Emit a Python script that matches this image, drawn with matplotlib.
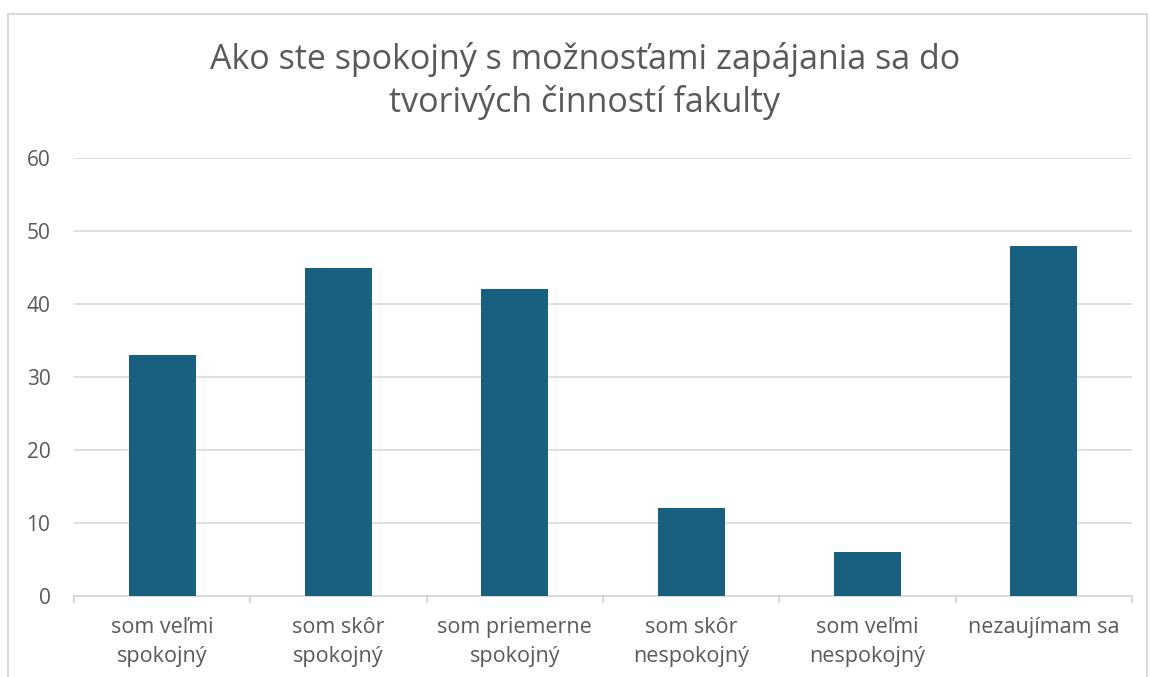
import matplotlib.pyplot as plt
from matplotlib.patches import Rectangle

# Données
categories = ["som veľmi\nspokojný", "som skôr\nspokojný", "som priemerne\nspokojný",
              "som skôr\nnespokojný", "som veľmi\nnespokojný", "nezaujímam sa"]
values = [33, 45, 42, 12, 6, 48]
yticks = [0, 10, 20, 30, 40, 50, 60]
title = "Ako ste spokojný s možnosťami zapájania sa do\ntvorivých činností fakulty"

plt.rcParams['font.family'] = ['Open Sans', 'DejaVu Sans']
text_color = '#595959'
grid_color = '#d9d9d9'

fig = plt.figure(figsize=(11.51, 6.77), dpi=100)
ax = fig.add_axes([74 / 1151, 1 - 596 / 677, (1132 - 74) / 1151, (596 - 158) / 677])

x = list(range(len(categories)))
ax.bar(x, values, width=0.38, color='#17607f', zorder=3)

ax.set_xlim(-0.5, len(categories) - 0.5)
ax.set_ylim(0, 60)
ax.set_yticks(yticks)
ax.set_yticklabels([str(t) for t in yticks], color=text_color, fontsize=15)
ax.set_xticks(x)
ax.set_xticklabels(categories, color=text_color, fontsize=15.5, linespacing=1.5)
ax.tick_params(axis='y', length=0, pad=17)
ax.tick_params(axis='x', length=0, pad=15)

# Séparateurs de catégories
for b in [i - 0.5 for i in range(len(categories) + 1)]:
    ax.plot([b, b], [0, -0.8], color=grid_color, lw=1.5, clip_on=False, zorder=2)

ax.grid(axis='y', color=grid_color, lw=1.2, zorder=0)
for s in ['top', 'right', 'left']:
    ax.spines[s].set_visible(False)
ax.spines['bottom'].set_color(grid_color)
ax.spines['bottom'].set_linewidth(1.5)

fig.text(0.508, 1 - 81 / 677, title, ha='center', va='center', fontsize=24.5,
         color=text_color, linespacing=1.32)

# Cadre du graphique
fig.patches.append(Rectangle((8 / 1151, -0.05), (1147 - 8) / 1151, 1 - 14 / 677 + 0.05,
                             transform=fig.transFigure, fill=False,
                             edgecolor=grid_color, lw=1.5))

fig.savefig("out.png", dpi=100)
